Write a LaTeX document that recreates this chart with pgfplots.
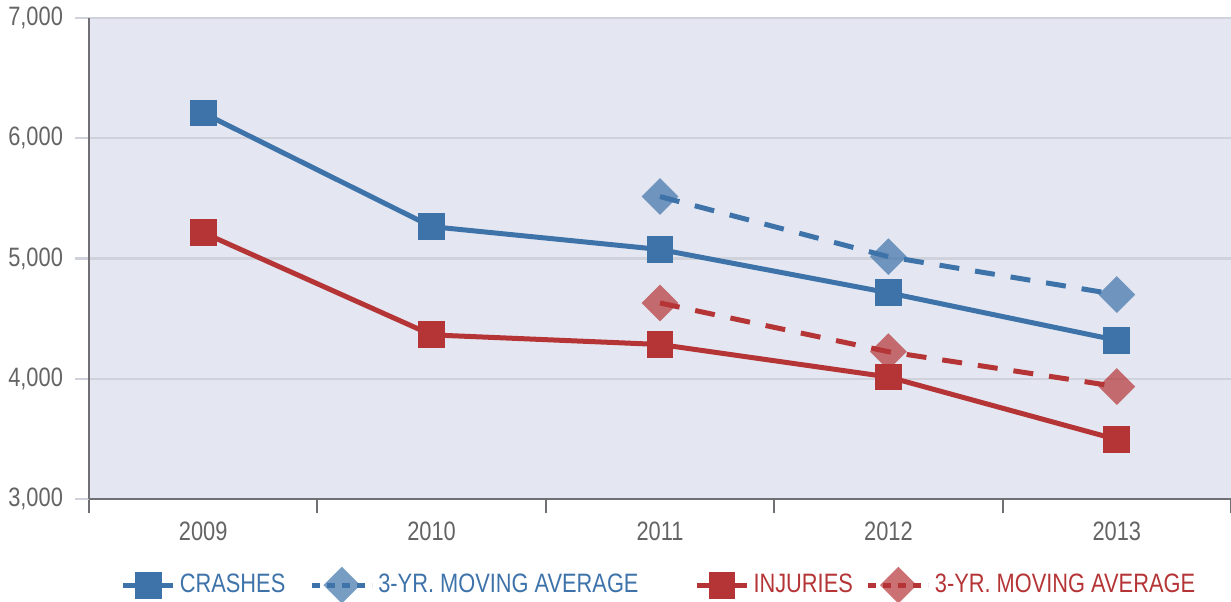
\documentclass[border=0pt]{standalone}
\usepackage{pgfplots}
\pgfplotsset{compat=1.18}
\usepackage{fontspec}
\setmainfont[FakeStretch=0.82]{Liberation Sans}
\usetikzlibrary{plotmarks}
\definecolor{cblue}{RGB}{62,115,170}
\definecolor{cred}{RGB}{181,53,55}
\definecolor{bgc}{RGB}{228,231,241}
\definecolor{gridc}{RGB}{208,210,219}
\definecolor{axc}{RGB}{112,112,116}
\definecolor{txtc}{RGB}{100,100,100}
\pgfplotsset{
  solidleg/.style={legend image code/.code={\draw[##1, mark repeat=2, mark phase=2] plot coordinates {(0pt,0pt) (12.5pt,0pt) (25pt,0pt)};}},
  dashleg/.style={legend image code/.code={\draw[##1, dash pattern=on 4pt off 3.5pt] (0pt,0pt) -- (30pt,0pt);
     \draw[##1, only marks] plot coordinates {(15pt,0pt)};}},
}
\begin{document}
\begin{tikzpicture}
\begin{axis}[
  scale only axis,
  width=571pt, height=240.5pt,
  xmin=-0.5, xmax=4.5,
  ymin=3000, ymax=7000,
  axis x line*=bottom, axis y line*=left,
  axis line style={axc, line width=1.2pt, -},
  axis background/.style={fill=bgc},
  xtick={-0.5,0.5,1.5,2.5,3.5,4.5},
  x tick label as interval,
  xticklabels={2009,2010,2011,2012,2013},
  ytick={3000,4000,5000,6000,7000},
  ymajorgrids,
  major grid style={gridc, line width=1.1pt},
  tick align=outside,
  major tick length=7pt,
  x tick style={axc, line width=1.1pt},
  y tick style={gridc, line width=1.1pt},
  tick label style={font=\fontsize{13.3pt}{15pt}\selectfont, text=txtc},
  yticklabel style={xshift=-2.5pt},
  xticklabel style={yshift=-1pt},
  /pgf/number format/assume math mode=true,
  /pgf/number format/1000 sep={,},
  legend columns=4,
  legend style={draw=none, fill=none, at={(0.5,-0.179)}, anchor=center,
    font=\fontsize{13.3pt}{15pt}\selectfont,
    /tikz/every even column/.append style={column sep=0pt}},
  clip=false,
]
\coordinate (bl) at (rel axis cs:-0.0779,-0.2141);
\coordinate (tr) at (rel axis cs:1.0,1.0374);

\addplot[cblue, line width=2.5pt, mark=square*, mark size=6.7pt, mark options={solid, fill=cblue, draw opacity=0}, solidleg]
  coordinates {(0,6210) (1,5265) (2,5075) (3,4715) (4,4320)};
\addlegendentry{\textcolor{cblue}{CRASHES}\rule{10pt}{0pt}}

\addplot[cblue, line width=2.5pt, dash pattern=on 10pt off 8pt, mark=square*, mark size=6.5pt,
  mark options={solid, rotate=45, fill=cblue, fill opacity=0.7, draw opacity=0}, dashleg]
  coordinates {(2,5515) (3,5015) (4,4700)};
\addlegendentry{\textcolor{cblue}{3-YR. MOVING AVERAGE}\rule{26pt}{0pt}}

\addplot[cred, line width=2.5pt, mark=square*, mark size=6.7pt, mark options={solid, fill=cred, draw opacity=0}, solidleg]
  coordinates {(0,5215) (1,4365) (2,4285) (3,4015) (4,3495)};
\addlegendentry{\textcolor{cred}{INJURIES}\rule{4.5pt}{0pt}}

\addplot[cred, line width=2.5pt, dash pattern=on 10pt off 8pt, mark=square*, mark size=6.5pt,
  mark options={solid, rotate=45, fill=cred, fill opacity=0.7, draw opacity=0}, dashleg]
  coordinates {(2,4630) (3,4225) (4,3935)};
\addlegendentry{\textcolor{cred}{3-YR. MOVING AVERAGE}}
\end{axis}
\pgfresetboundingbox
\path[use as bounding box] (bl) rectangle (tr);
\end{tikzpicture}
\end{document}
